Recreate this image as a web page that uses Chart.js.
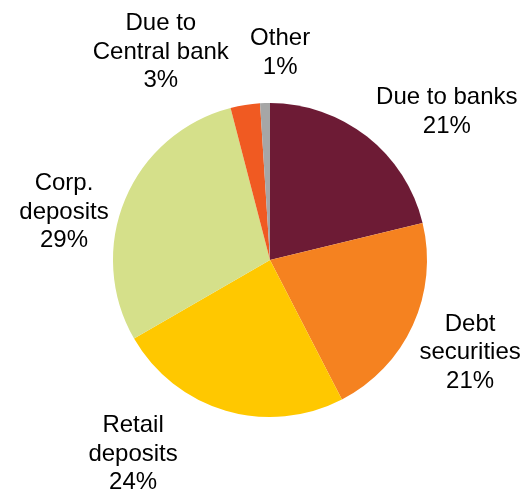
<!DOCTYPE html>
<html>
<head>
<meta charset="utf-8">
<script src="https://cdn.jsdelivr.net/npm/chart.js@4.4.1/dist/chart.umd.min.js"></script>
<style>
    html, body { margin: 0; padding: 0; background: #fff; }
    #wrap { width: 526px; height: 494px; position: relative; }
</style>
</head>
<body>
<div id="wrap"><canvas id="fundingChart" width="526" height="494"></canvas></div>
<script>
// Funding mix, share of total (%)
const categories = [
    ['Due to banks'],
    ['Debt', 'securities'],
    ['Retail', 'deposits'],
    ['Corp.', 'deposits'],
    ['Due to', 'Central bank'],
    ['Other']
];
const shares = [21, 21, 24, 29, 3, 1];
const sliceColors = ['#6D1B35', '#F58220', '#FFC800', '#D5E08A', '#F05A22', '#A6A6A6'];

// where each label sits: angle clockwise from 12 o'clock (deg) and distance in radii
const labelPlacement = [
    { angle: 50.0, dist: 1.47 },
    { angle: 114.9, dist: 1.405 },
    { angle: 215.2, dist: 1.513 },
    { angle: 283.1, dist: 1.347 },
    { angle: 332.3, dist: 1.496 },
    { angle: 2.8, dist: 1.32 }
];

const outsideLabels = {
    id: 'outsideLabels',
    afterDatasetsDraw(chart) {
        const ctx = chart.ctx;
        const meta = chart.getDatasetMeta(0);
        ctx.save();
        ctx.font = '24px "Liberation Sans", Arial, sans-serif';
        ctx.fillStyle = '#000';
        ctx.textAlign = 'center';
        ctx.textBaseline = 'middle';
        const lineH = 28.5;
        meta.data.forEach((arc, i) => {
            const p = labelPlacement[i];
            const a = p.angle * Math.PI / 180;
            const cx = arc.x + Math.sin(a) * arc.outerRadius * p.dist;
            const cy = arc.y - Math.cos(a) * arc.outerRadius * p.dist;
            const lines = categories[i].concat([shares[i] + '%']);
            const top = cy - (lines.length - 1) * lineH / 2;
            lines.forEach((t, j) => ctx.fillText(t, cx, top + j * lineH));
        });
        ctx.restore();
    }
};

new Chart(document.getElementById('fundingChart').getContext('2d'), {
    type: 'pie',
    data: {
        labels: categories.map(c => c.join(' ')),
        datasets: [{
            data: shares,
            backgroundColor: sliceColors,
            borderWidth: 0,
            hoverOffset: 0
        }]
    },
    options: {
        responsive: false,
        animation: false,
        layout: { padding: { left: 113, right: 99, top: 103, bottom: 77 } },
        plugins: {
            legend: { display: false },
            tooltip: { enabled: false }
        }
    },
    plugins: [outsideLabels]
});
</script>
</body>
</html>
